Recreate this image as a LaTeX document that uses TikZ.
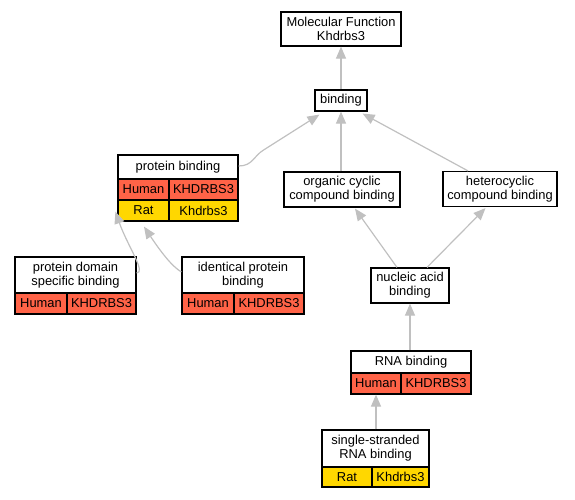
\documentclass[tikz,border=0pt]{standalone}
\usepackage{fontspec}
\setmainfont{Liberation Sans}
\usetikzlibrary{arrows.meta}
\definecolor{humanc}{RGB}{255,99,71}
\definecolor{ratc}{RGB}{255,215,0}
\definecolor{edgec}{RGB}{192,192,192}
\begin{document}
\begin{tikzpicture}[x=1pt,y=-1pt,
 box/.style={draw=black, line width=1.2pt, fill=white, inner sep=0pt, align=center, font=\fontsize{12.9}{14}\selectfont},
 hum/.style={box, fill=humanc},
 rat/.style={box, fill=ratc},
 edge/.style={draw=edgec, line width=1.2pt, -{Triangle[length=12pt,width=10pt]}}
]
\useasboundingbox (0,0) rectangle (575,499);

% top
\node[box, minimum width=120pt, minimum height=34pt] (mf) at (341,29) {Molecular Function\\Khdrbs3};
\node[box, minimum width=52pt, minimum height=21pt] (bind) at (341,100.5) {binding};
\node[box, minimum width=116pt, minimum height=35pt] (org) at (342,189.5) {organic cyclic\\compound binding};
\node[box, minimum width=114pt, minimum height=35pt] (het) at (500,189) {heterocyclic\\compound binding};
\node[box, minimum width=78pt, minimum height=35pt] (nuc) at (410,285.5) {nucleic acid\\binding};

% protein binding
\node[box, minimum width=120pt, minimum height=24pt] (pbt) at (178,167) {protein binding};
\node[hum, minimum width=51pt, minimum height=21pt] (pbh1) at (143.5,189.5) {Human};
\node[hum, minimum width=69pt, minimum height=21pt] (pbh2) at (203.5,189.5) {KHDRBS3};
\node[rat, minimum width=51pt, minimum height=21pt] (pbr1) at (143.5,210.5) {Rat};
\node[rat, minimum width=69pt, minimum height=21pt] (pbr2) at (203.5,210.5) {Khdrbs3};

% protein domain specific binding
\node[box, minimum width=121pt, minimum height=36pt] (domt) at (75.5,275) {protein domain\\specific binding};
\node[hum, minimum width=52pt, minimum height=21pt] (domh1) at (41,303.5) {Human};
\node[hum, minimum width=69pt, minimum height=21pt] (domh2) at (101.5,303.5) {KHDRBS3};

% identical protein binding
\node[box, minimum width=122pt, minimum height=36pt] (idt) at (243,275) {identical protein\\binding};
\node[hum, minimum width=52pt, minimum height=21pt] (idh1) at (208,303.5) {Human};
\node[hum, minimum width=70pt, minimum height=21pt] (idh2) at (269,303.5) {KHDRBS3};

% RNA binding
\node[box, minimum width=120pt, minimum height=22pt] (rnat) at (411,362) {RNA binding};
\node[hum, minimum width=50pt, minimum height=21pt] (rnah1) at (376,383.5) {Human};
\node[hum, minimum width=70pt, minimum height=21pt] (rnah2) at (436,383.5) {KHDRBS3};

% single-stranded RNA binding
\node[box, minimum width=107pt, minimum height=37pt] (sst) at (375.5,448.5) {single-stranded\\RNA binding};
\node[rat, minimum width=50pt, minimum height=20pt] (ssr1) at (347,477) {Rat};
\node[rat, minimum width=57pt, minimum height=20pt] (ssr2) at (400.5,477) {Khdrbs3};

% edges
\draw[edge] (bind.north) -- (mf.south);
\draw[edge] (org.north -| bind.south) -- (bind.south);
\draw[edge] ([xshift=-32pt]het.north) -- ([xshift=-5pt,yshift=-2pt]bind.south east);
\draw[edge] ([yshift=1pt]pbt.east) .. controls +(14,0) and +(-10,6) .. ++(25,-16) -- ([xshift=5pt,yshift=-3pt]bind.south west);
\draw[edge] ([yshift=2pt]domt.east) .. controls +(10,0) and +(12,34) .. ([xshift=-2pt,yshift=10pt]pbr1.south west);
\draw[edge] ([yshift=3pt]idt.west) .. controls +(-10,-6) and +(16,24) .. ([xshift=0.5pt,yshift=-5pt]pbr1.south);
\draw[edge] ([xshift=-13pt]nuc.north) -- ([xshift=13pt,yshift=-1pt]org.south);
\draw[edge] ([xshift=17pt]nuc.north) -- ([xshift=-14.5pt,yshift=-1pt]het.south);
\draw[edge] (rnat.north -| nuc.south) -- (nuc.south);
\draw[edge] (sst.north -| rnah1.south) -- (rnah1.south);
\end{tikzpicture}
\end{document}
